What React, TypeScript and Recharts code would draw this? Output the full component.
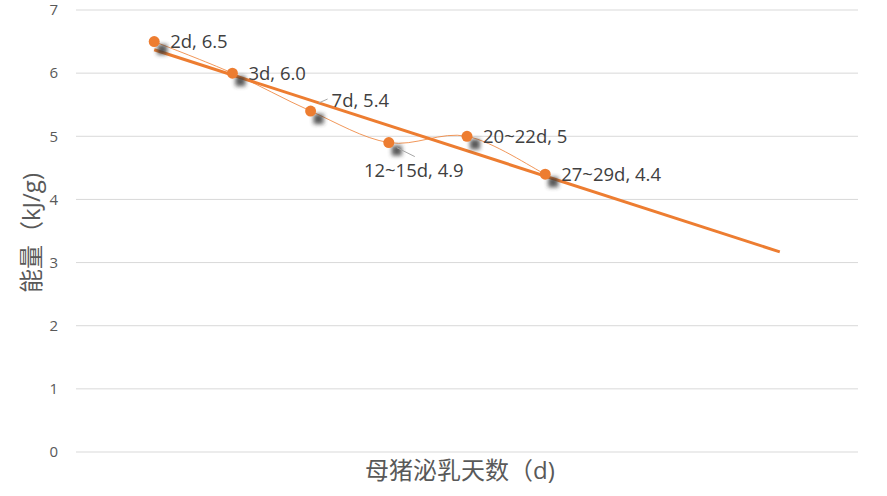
import React from 'react';
import { LineChart, Line, XAxis, YAxis, CartesianGrid } from 'recharts';

// lactation stages (x position 1..6) and milk energy, kJ/g
const stages = ['2d', '3d', '7d', '12~15d', '20~22d', '27~29d'];
const positions = [1, 2, 3, 4, 5, 6];
const energy = [6.5, 6.0, 5.4, 4.9, 5.0, 4.4];
const energyText = ['6.5', '6.0', '5.4', '4.9', '5', '4.4'];

// linear trend line as drawn (start / end)
const trendX = [1, 9];
const trendY = [6.37, 3.17];

const yTicks = [0, 1, 2, 3, 4, 5, 6, 7];

const points = stages.map((s, i) => ({ x: positions[i], v: energy[i], label: `${s}, ${energyText[i]}` }));
const trend = trendX.map((x, i) => ({ x, t: trendY[i] }));

const ORANGE = '#ED7D31';
const FONT = '"Open Sans", "Noto Sans CJK SC", sans-serif';

// excel-like smooth line (catmull-rom through the points)
const smoothCurve = (context: any) => {
    let pts: number[][] = [];
    return {
        areaStart() {},
        areaEnd() {},
        lineStart() { pts = []; },
        point(x: number, y: number) { pts.push([+x, +y]); },
        lineEnd() {
            if (!pts.length) return;
            context.moveTo(pts[0][0], pts[0][1]);
            for (let i = 0; i < pts.length - 1; i++) {
                const p0 = pts[i - 1] || pts[i];
                const p1 = pts[i];
                const p2 = pts[i + 1];
                const p3 = pts[i + 2] || p2;
                context.bezierCurveTo(
                    p1[0] + (p2[0] - p0[0]) / 6, p1[1] + (p2[1] - p0[1]) / 6,
                    p2[0] - (p3[0] - p1[0]) / 6, p2[1] - (p3[1] - p1[1]) / 6,
                    p2[0], p2[1]
                );
            }
        },
    };
};

const renderDot = (props: any) => {
    const { cx, cy, index } = props;
    return (
        <g key={`dot-${index}`}>
            <defs>
                <filter id="dotShadow" x="-100%" y="-100%" width="300%" height="300%">
                    <feGaussianBlur stdDeviation="2.2" />
                </filter>
            </defs>
            <rect x={cx + 3} y={cy + 3} width={10} height={10} fill="#3a3a3a" opacity={0.85} filter="url(#dotShadow)" />
            <circle cx={cx} cy={cy} r={5.5} fill={ORANGE} />
        </g>
    );
};

// label placement per point (offsets only)
const labelOffsets = [
    { dx: 16, dy: 0, anchor: 'start' },
    { dx: 16, dy: 0, anchor: 'start' },
    { dx: 21, dy: -11, anchor: 'start', lead: [8, -8, 17, -12] },
    { dx: 25, dy: 28, anchor: 'middle', lead: [8, 5, 26, 14] },
    { dx: 16, dy: 0, anchor: 'start' },
    { dx: 16, dy: 0, anchor: 'start' },
];

const renderLabel = (props: any) => {
    const { x, y, index } = props;
    const o: any = labelOffsets[index];
    return (
        <g key={`lbl-${index}`}>
            {o.lead && (
                <line x1={x + o.lead[0]} y1={y + o.lead[1]} x2={x + o.lead[2]} y2={y + o.lead[3]} stroke="#a6a6a6" strokeWidth={1} />
            )}
            <text x={x + o.dx} y={y + o.dy} dy="0.35em" textAnchor={o.anchor} fontSize={18.5} fill="#404040" fontFamily={FONT}>
                {points[index].label}
            </text>
        </g>
    );
};

const App: React.FC = () => {
    return (
        <div style={{ position: 'absolute', left: 0, top: 0, width: 887, height: 496, background: '#fff' }}>
            <LineChart width={887} height={496} margin={{ top: 10, right: 29, bottom: 44, left: 36 }}>
                <CartesianGrid stroke="#d9d9d9" vertical={false} />
                <XAxis type="number" dataKey="x" domain={[0, 10]} hide />
                <YAxis
                    type="number"
                    domain={[0, 7]}
                    ticks={yTicks}
                    width={40}
                    axisLine={false}
                    tickLine={false}
                    tickSize={0}
                    tickMargin={18}
                    tick={{ fill: '#595959', fontSize: 15, fontFamily: FONT }}
                />
                <Line
                    data={trend}
                    dataKey="t"
                    type="linear"
                    stroke={ORANGE}
                    strokeWidth={3}
                    dot={false}
                    isAnimationActive={false}
                />
                <Line
                    data={points}
                    dataKey="v"
                    type={smoothCurve as any}
                    stroke={ORANGE}
                    strokeOpacity={0.8}
                    strokeWidth={1}
                    dot={renderDot}
                    activeDot={false}
                    label={renderLabel}
                    isAnimationActive={false}
                />
                <text x={30} y={233} transform="rotate(-90 30 233)" textAnchor="middle" dominantBaseline="central" fontSize={24} fill="#595959" fontFamily={FONT}>
                    能量（kJ/g)
                </text>
                <text x={460} y={469} textAnchor="middle" dominantBaseline="central" fontSize={24} fill="#595959" fontFamily={FONT}>
                    母猪泌乳天数（d)
                </text>
            </LineChart>
        </div>
    );
};

export default App;
